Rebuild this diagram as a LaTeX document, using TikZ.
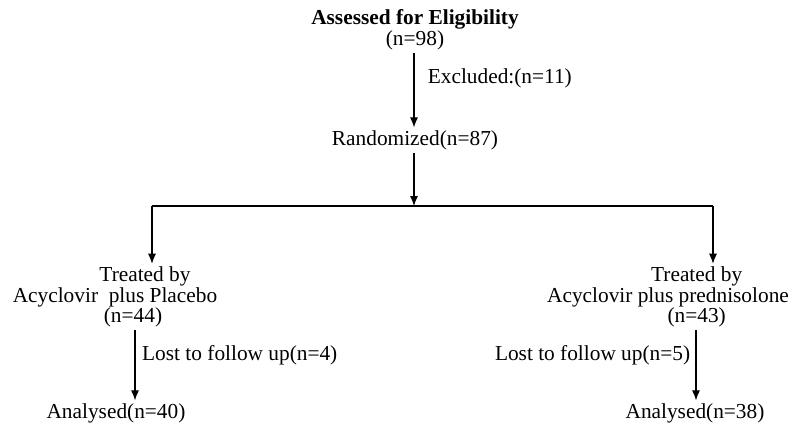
\documentclass[tikz,border=0pt]{standalone}
\usepackage{fontspec}
\setmainfont{Liberation Serif}
\usetikzlibrary{arrows.meta}
\usetikzlibrary{positioning}
\tikzset{box/.style = {align=center, inner sep=2pt,
                       font=\fontsize{16}{15.5}\selectfont},
         lbl/.style = {inner sep=2pt, font=\fontsize{16}{15.5}\selectfont},
         flow/.style = {line width=0.8pt, -{Latex[length=7.5pt, width=6pt]}},
         bar/.style = {line width=0.8pt}}

\begin{document}
\begin{tikzpicture}[x=0.75pt, y=-0.75pt]
    \useasboundingbox (0, 0) rectangle (792, 425);

    \node [box] (elig) at (415, 30) {\textbf{Assessed for Eligibility}\\(n=98)};
    \node [box] (rand) at (415, 140) {Randomized(n=87)};
    \node [box] (treatL) at (115, 297) {\hspace*{45pt}Treated by\\Acyclovir\ \ plus Placebo\\\hspace*{27pt}(n=44)};
    \node [box] (treatR) at (668, 297) {\hspace*{43pt}Treated by\\Acyclovir plus prednisolone\\\hspace*{43pt}(n=43)};
    \node [box] (anaL) at (116, 413) {Analysed(n=40)};
    \node [box] (anaR) at (695, 413) {Analysed(n=38)};

    \coordinate (split) at (414, 206);
    \coordinate (splitL) at (152, 206);
    \coordinate (splitR) at (713, 206);
    \coordinate (dropL) at ([xshift=15pt]treatL.south);
    \coordinate (dropR) at ([xshift=21pt]treatR.south);

    \draw [flow] (elig.south -| split) -- (rand.north -| split)
      node [lbl, right=8pt, pos=0.34] {Excluded:(n=11)};
    \draw [flow] (rand.south -| split) -- (split);
    \draw [bar] (splitL) -- (splitR);
    \draw [flow] (splitL) -- (splitL |- treatL.north);
    \draw [flow] (splitR) -- (splitR |- treatR.north);
    \draw [flow] (dropL) -- (dropL |- anaL.north)
      node [lbl, right=3pt, pos=0.35] {Lost to follow up(n=4)};
    \draw [flow] (dropR) -- (dropR |- anaR.north)
      node [lbl, left=2pt, pos=0.35] {Lost to follow up(n=5)};
\end{tikzpicture}
\end{document}
